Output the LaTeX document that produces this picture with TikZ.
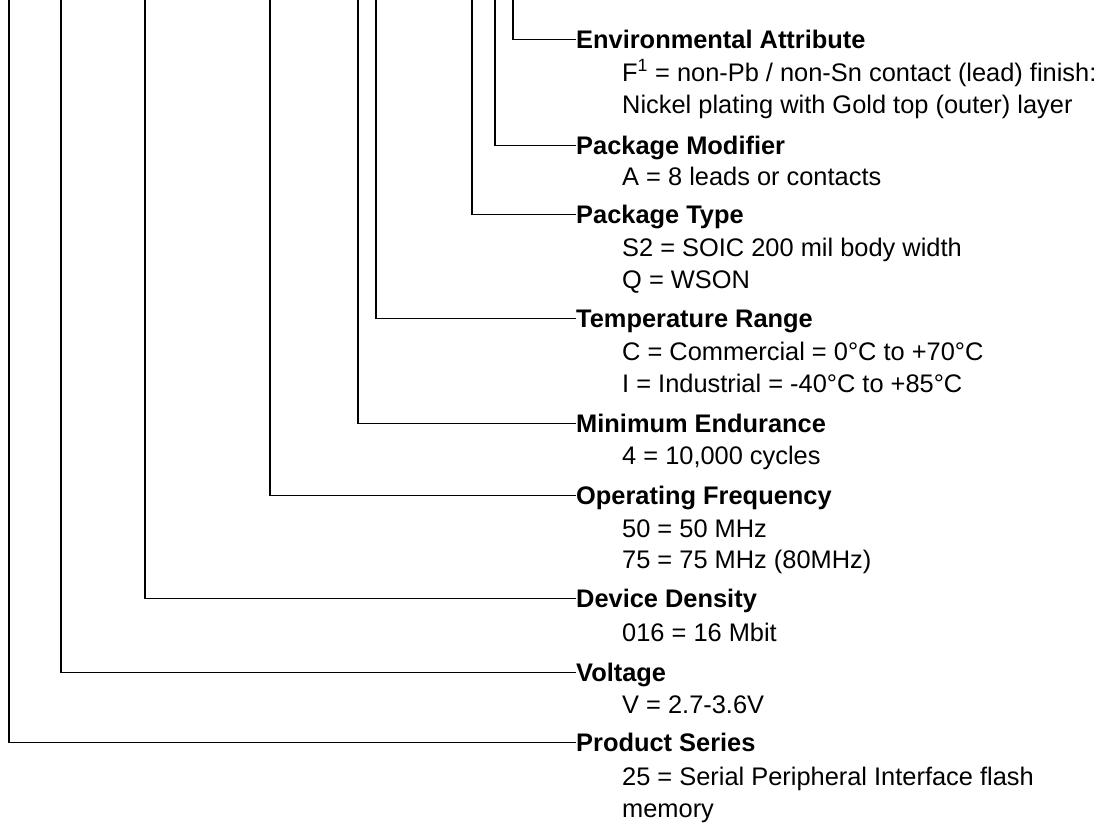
\documentclass[tikz,border=0pt]{standalone}
\usepackage{fontspec}
\setmainfont{Liberation Sans}
\begin{document}
\begin{tikzpicture}[x=1pt,y=-1pt,
  ttl/.style={anchor=base west, inner sep=0pt, font=\fontsize{25.4}{32}\selectfont\bfseries},
  dsc/.style={anchor=base west, inner sep=0pt, font=\fontsize{25.4}{32}\selectfont},
  leader/.style={line width=1.2pt, black}]
\useasboundingbox (0,0) rectangle (1115,825);
% titles
\node[ttl] (env) at (576,48) {Environmental Attribute};
\node[ttl] (pm)  at (576,154) {Package Modifier};
\node[ttl] (pt)  at (576,223) {Package Type};
\node[ttl] (tr)  at (576,327.5) {Temperature Range};
\node[ttl] (me)  at (576,432.5) {Minimum Endurance};
\node[ttl] (of)  at (576,504.5) {Operating Frequency};
\node[ttl] (dd)  at (576,607.5) {Device Density};
\node[ttl] (vo)  at (576,681) {Voltage};
\node[ttl] (ps)  at (576,751.5) {Product Series};
% descriptions
\node[dsc] (env1) at (622,81) {F\textsuperscript{1} = non-Pb / non-Sn contact (lead) finish:};
\node[dsc] (env2) at (622,113) {Nickel plating with Gold top (outer) layer};
\node[dsc] (pm1)  at (622,185) {A = 8 leads or contacts};
\node[dsc] (pt1)  at (622,256.5) {S2 = SOIC 200 mil body width};
\node[dsc] (pt2)  at (622,288.5) {Q = WSON};
\node[dsc] (tr1)  at (622,360) {C = Commercial = 0°C to +70°C};
\node[dsc] (tr2)  at (622,392) {I = Industrial = -40°C to +85°C};
\node[dsc] (me1)  at (622,464.5) {4 = 10,000 cycles};
\node[dsc] (of1)  at (622,537) {50 = 50 MHz};
\node[dsc] (of2)  at (622,568.5) {75 = 75 MHz (80MHz)};
\node[dsc] (dd1)  at (622,641) {016 = 16 Mbit};
\node[dsc] (vo1)  at (622,713) {V = 2.7-3.6V};
\node[dsc] (ps1)  at (622,785) {25 = Serial Peripheral Interface flash};
\node[dsc] (ps2)  at (622,817) {memory};
% leader tops
\coordinate (cenv) at (513,0);
\coordinate (cpm)  at (495,0);
\coordinate (cpt)  at (472,0);
\coordinate (ctr)  at (376,0);
\coordinate (cme)  at (358,0);
\coordinate (cof)  at (270,0);
\coordinate (cdd)  at (145,0);
\coordinate (cvo)  at (61,0);
\coordinate (cps)  at (9,0);
\foreach \n in {env,pm,pt,tr,me,of,dd,vo,ps}
  \draw[leader] (c\n) |- ([yshift=8.8pt]\n.base west);
\end{tikzpicture}
\end{document}
